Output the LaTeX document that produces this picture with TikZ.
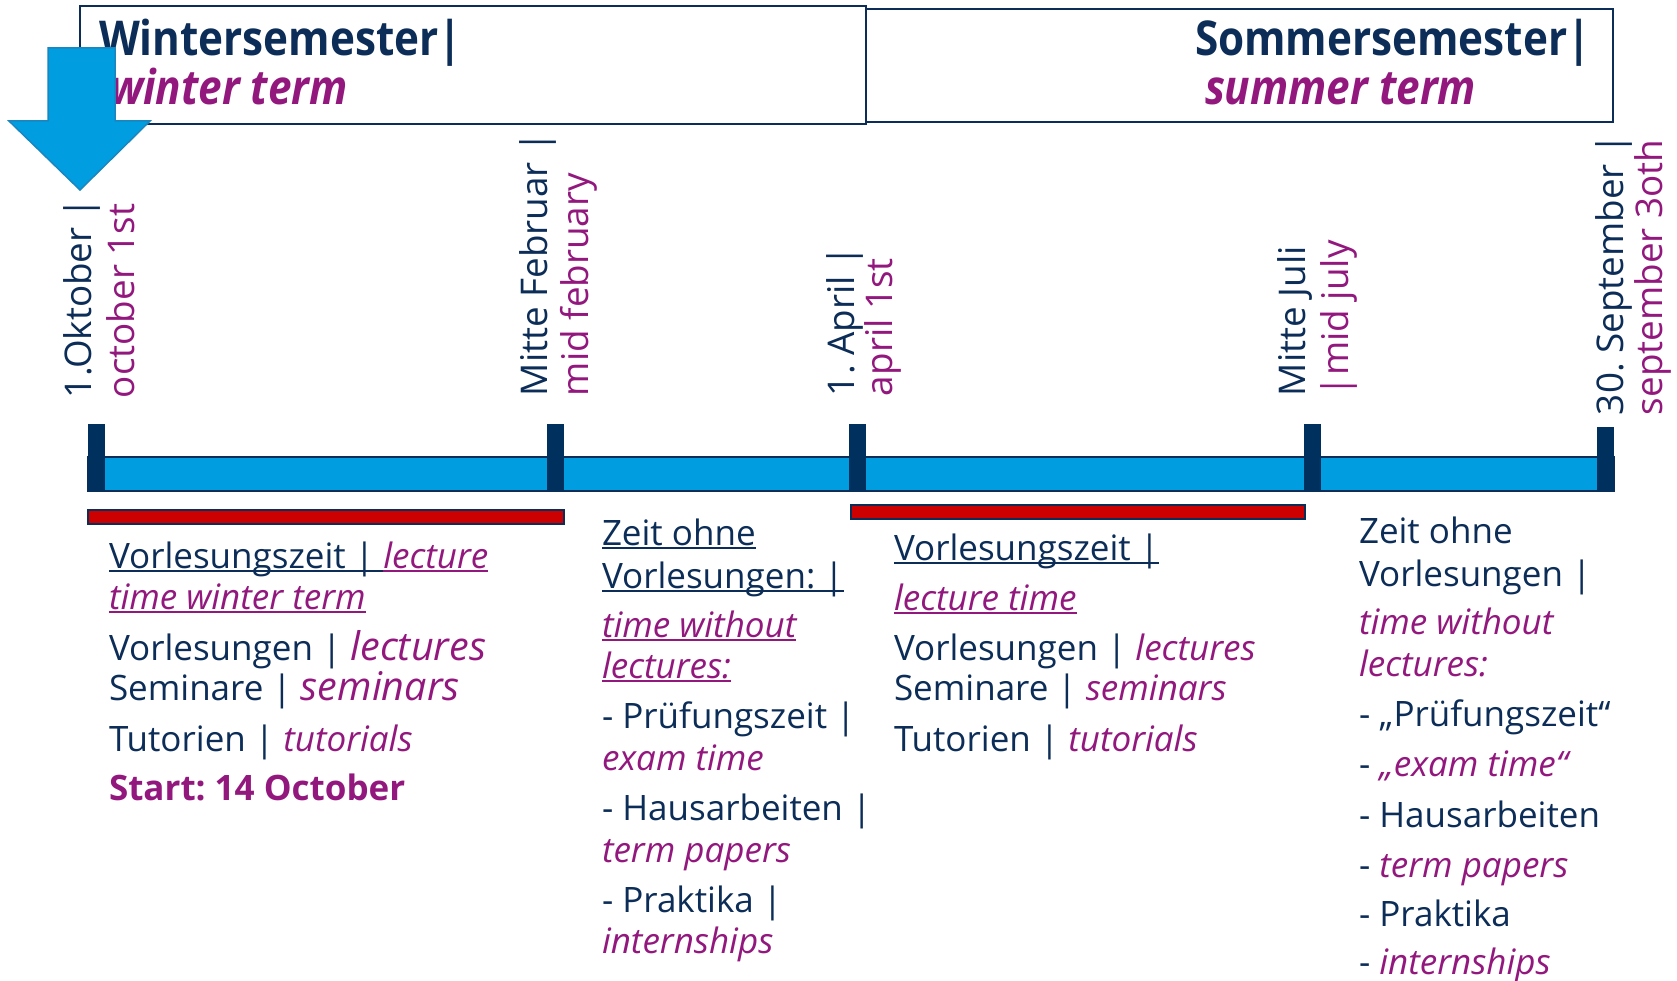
\documentclass[tikz,border=0pt]{standalone}
\usepackage{fontspec}
\setmainfont{Open Sans}
\newfontfamily\condfont[FakeStretch=0.88]{Open Sans}
\definecolor{navy}{HTML}{0C2D57}
\definecolor{purp}{HTML}{92187E}
\definecolor{lblue}{HTML}{009EE0}
\definecolor{tick}{HTML}{00305D}
\definecolor{redbar}{HTML}{CC0000}
\definecolor{arrowedge}{HTML}{1A86BF}
\frenchspacing
\newcommand\ulx[1]{\setbox0=\hbox{#1}\rlap{\rule[-0.1em]{\wd0}{0.05em}}\box0}
\newcommand\en[1]{{\color{purp}\itshape #1}}
\newcommand\enbig[1]{{\color{purp}\itshape\fontsize{39.5}{42}\selectfont #1}}
\tikzset{
  tx/.style={anchor=base west, inner sep=0pt, outer sep=0pt, font=\fontsize{35}{42}\selectfont, text=navy},
  rt/.style={tx, rotate=90, font=\fontsize{36.8}{42}\selectfont},
  rtp/.style={rt, text=purp},
  ttl/.style={anchor=base west, inner sep=0pt, outer sep=0pt, font=\condfont\bfseries\fontsize{48}{56}\selectfont, text=navy},
  ttlp/.style={ttl, font=\condfont\bfseries\itshape\fontsize{48}{56}\selectfont, text=purp},
  termbox/.style={draw=navy, line width=1.6pt},
  tickmark/.style={fill=tick, draw=none},
  redline/.style={fill=redbar, draw=navy, line width=1.2pt},
}
\begin{document}
\begin{tikzpicture}[x=1pt,y=-1pt]
\useasboundingbox (0,0) rectangle (1677,981);
% term boxes
\draw[termbox] (80,6) rectangle (866,124);
\draw[termbox] (866,9) rectangle (1613,122);
\node[ttl] (ws) at (99,56) {Wintersemester|};
\node[ttlp] (wt) at (110,105) {winter term};
\node[ttl] (ss) at (1195,56) {Sommersemester|};
\node[ttlp] (st) at (1205,105) {summer term};
% arrow
\draw[fill=lblue, draw=arrowedge, line width=1.5pt, line join=miter]
  (48,48) -- (115,48) -- (115,121) -- (150,121) -- (80,190) -- (9,121) -- (48,121) -- cycle;
% timeline
\draw[fill=lblue, draw=navy, line width=1.2pt] (88,457) rectangle (1614,491);
\fill[tickmark] (88,424) rectangle (105,491);
\fill[tickmark] (547,424) rectangle (564,491);
\fill[tickmark] (849,424) rectangle (866,491);
\fill[tickmark] (1304,424) rectangle (1321,491);
\fill[tickmark] (1597,427) rectangle (1614,491);
% red bars
\draw[redline] (88,510) rectangle (564,524);
\draw[redline] (851,505) rectangle (1305,519);
% rotated labels
\node[rt] (d1a) at (91,398) {1.Oktober |};
\node[rtp] (d1b) at (134,398) {october 1st};
\node[rt] (d2a) at (547,396) {Mitte Februar |};
\node[rtp] (d2b) at (588,396) {mid february};
\node[rt] (d3a) at (854,396) {1. April |};
\node[rtp] (d3b) at (892,396) {april 1st};
\node[rt] (d4a) at (1305,396) {Mitte Juli};
\node[rtp] (d4b) at (1348,396) {|mid july};
\node[rt] (d5a) at (1623,415) {30. September |};
\node[rtp] (d5b) at (1662,415) {september 3oth};
% block 1
\node[tx] (a1) at (109,568) {\ulx{Vorlesungszeit | }{\color{purp}\itshape\ulx{lecture}}};
\node[tx] (a2) at (109,609) {{\color{purp}\itshape\ulx{time winter term}}};
\node[tx] (a3) at (109,660) {Vorlesungen | \enbig{lectures}};
\node[tx] (a4) at (109,700) {Seminare | \enbig{seminars}};
\node[tx] (a5) at (109,751) {Tutorien | \en{tutorials}};
\node[tx] (a6) at (109,800) {{\bfseries\color{purp}Start: 14 October}};
% block 2
\node[tx] (b1) at (602,545) {\ulx{Zeit ohne}};
\node[tx] (b2) at (602,588) {\ulx{Vorlesungen: |}};
\node[tx] (b3) at (602,637) {{\color{purp}\itshape\ulx{time without}}};
\node[tx] (b4) at (602,678) {{\color{purp}\itshape\ulx{lectures:}}};
\node[tx] (b5) at (602,728) {- Prüfungszeit |};
\node[tx] (b6) at (602,770) {\en{exam time}};
\node[tx] (b7) at (602,820) {- Hausarbeiten |};
\node[tx] (b8) at (602,862) {\en{term papers}};
\node[tx] (b9) at (602,912) {- Praktika |};
\node[tx] (b10) at (602,953) {\en{internships}};
% block 3
\node[tx] (c1) at (894,560) {\ulx{Vorlesungszeit |}};
\node[tx] (c2) at (894,610) {{\color{purp}\itshape\ulx{lecture time}}};
\node[tx] (c3) at (894,660) {Vorlesungen | \en{lectures}};
\node[tx] (c4) at (894,700) {Seminare | \en{seminars}};
\node[tx] (c5) at (894,751) {Tutorien | \en{tutorials}};
% block 4
\node[tx] (e1) at (1359,543) {Zeit ohne};
\node[tx] (e2) at (1359,586) {Vorlesungen |};
\node[tx] (e3) at (1359,634) {\en{time without}};
\node[tx] (e4) at (1359,676) {\en{lectures:}};
\node[tx] (e5) at (1359,726) {- „Prüfungszeit“};
\node[tx] (e6) at (1359,776) {- \en{„exam time“}};
\node[tx] (e7) at (1359,827) {- Hausarbeiten};
\node[tx] (e8) at (1359,877) {- \en{term papers}};
\node[tx] (e9) at (1359,926) {- Praktika};
\node[tx] (e10) at (1359,974) {- \en{internships}};
\end{tikzpicture}
\end{document}
